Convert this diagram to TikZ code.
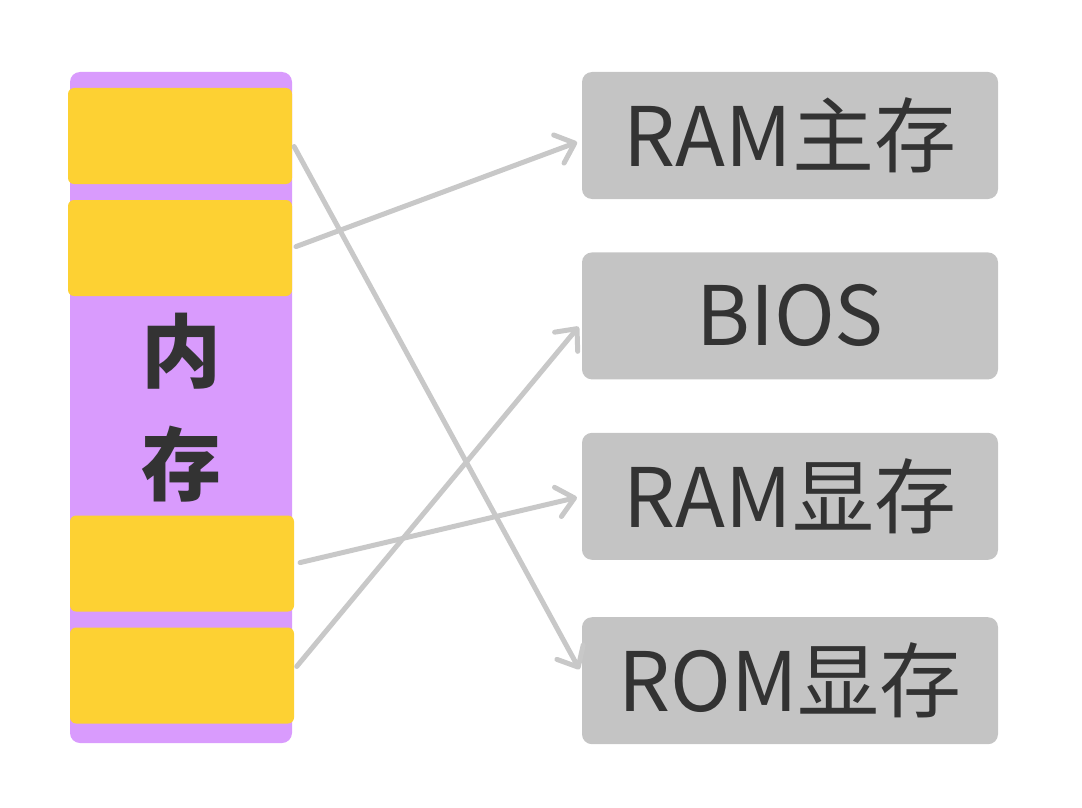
\documentclass[tikz,border=0pt]{standalone}
\usepackage{fontspec}
\setmainfont{Noto Sans CJK SC}
\usetikzlibrary{positioning,calc,arrows.meta}
\definecolor{memPurple}{HTML}{D99BFD}
\definecolor{slotYellow}{HTML}{FDD133}
\definecolor{boxGray}{HTML}{C4C4C4}
\definecolor{lineGray}{HTML}{C8C8C8}
\definecolor{inkGray}{HTML}{333333}
\tikzset{memcol/.style={fill=memPurple, rounded corners=10, minimum width=222pt, minimum height=671pt, inner sep=0pt}}
\tikzset{slot/.style={fill=slotYellow, rounded corners=6, minimum width=224pt, minimum height=96pt, inner sep=0pt}}
\tikzset{dbox/.style={fill=boxGray, rounded corners=10, minimum width=416pt, minimum height=127pt, inner sep=0pt, text=inkGray, font=\fontsize{82}{90}\selectfont}}
\tikzset{arr/.style={draw=lineGray, line width=5pt, line cap=round, -{Straight Barb[length=17pt,width=30pt,round]}, shorten <=4pt, shorten >=5pt}}

\begin{document}
\begin{tikzpicture}[x=1pt, y=-1pt]
	\useasboundingbox (0,0) rectangle (1082,808);
	\node[memcol] (mem) at (181,407.5) {};
	\node[slot] (s1) at (180,136) {};
	\node[slot] (s2) at (180,248) {};
	\node[slot] (s3) at (182,563.5) {};
	\node[slot] (s4) at (182,675.5) {};
	\node[text=inkGray, align=center, font=\bfseries\fontsize{80}{113}\selectfont] (memtxt) at (181,408) {内\\存};
	%
	\node[dbox] (ram) at (790,135.5) {RAM主存};
	\node[dbox, below=53pt of ram] (bios) {BIOS};
	\node[dbox, below=53pt of bios] (vram) {RAM显存};
	\node[dbox, below=57pt of vram] (vrom) {ROM显存};
	%
	\draw[arr] ($(s1.east)+(0,7)$) to ($(vrom.west)+(0,-7)$);
	\draw[arr] (s2.east) to ($(ram.west)+(0,5)$);
	\draw[arr] ($(s3.east)+(2,0)$) to (vram.west);
	\draw[arr] ($(s4.east)+(0,-6)$) to ($(bios.west)+(0,7)$);
\end{tikzpicture}
\end{document}
